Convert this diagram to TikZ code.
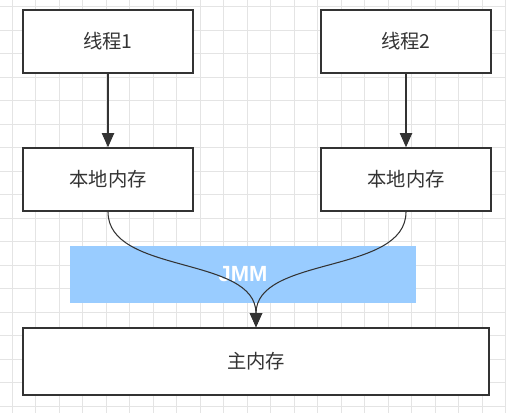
\documentclass[tikz,border=0pt]{standalone}
\usepackage{fontspec}
\usepackage{xcolor}
\usepackage{tikz}
\usetikzlibrary{positioning,%
  arrows.meta,%
  calc
}
\newfontfamily\cjk{Noto Sans CJK SC}
\newfontfamily\latinfont{Liberation Sans}
\definecolor{linegray}{HTML}{333333}
\definecolor{gridgray}{HTML}{E4E4E4}
\definecolor{jmmblue}{HTML}{99CCFF}

\tikzset{
  membox/.style={draw=linegray,line width=0.9pt,fill=white,
    minimum width=170*0.2mm,minimum height=63*0.2mm,
    font=\cjk\fontsize{11}{13}\selectfont,text=linegray},
  flow/.style={draw=linegray,line width=0.6pt,
    -{Triangle[width=7pt,length=8pt]}}
}

\begin{document}
\begin{tikzpicture}[x=0.2mm,y=-0.2mm]
            \useasboundingbox (0,0) rectangle (506,413);
            \fill[white] (0,0) rectangle (506,413);
            % background grid
            \foreach \k in {0,...,21}
              \draw[gridgray,line width=0.5pt] (12+23.5*\k,0) -- (12+23.5*\k,413);
            \foreach \k in {0,...,17}
              \draw[gridgray,line width=0.5pt] (0,6.5+23.5*\k) -- (506,6.5+23.5*\k);

            % JMM band
            \node[fill=jmmblue,minimum width=346*0.2mm,minimum height=57*0.2mm,inner sep=0pt] (jmm) at (243,274.5) {};
            \node[text=white,font=\latinfont\bfseries\fontsize{12.5}{14}\selectfont] (jmmtext) at (243,274) {JMM};

            \node[membox] (t1) at (108,41.5) {线程1};
            \node[membox] (t2) at (406,41.5) {线程2};
            \node[membox] (m1) at (108,179.5) {本地内存};
            \node[membox] (m2) at (406,179.5) {本地内存};
            \node[membox,minimum width=466*0.2mm,minimum height=67*0.2mm] (main) at (256,361.5) {主内存};

            \draw[flow] (t1) -- (m1);
            \draw[flow] (t2) -- (m2);
            \draw[flow] (m1.south) .. controls (108,275) and (256,255) .. (main.north);
            \draw[flow] (m2.south) .. controls (406,275) and (256,255) .. (main.north);
        \end{tikzpicture}
\end{document}
